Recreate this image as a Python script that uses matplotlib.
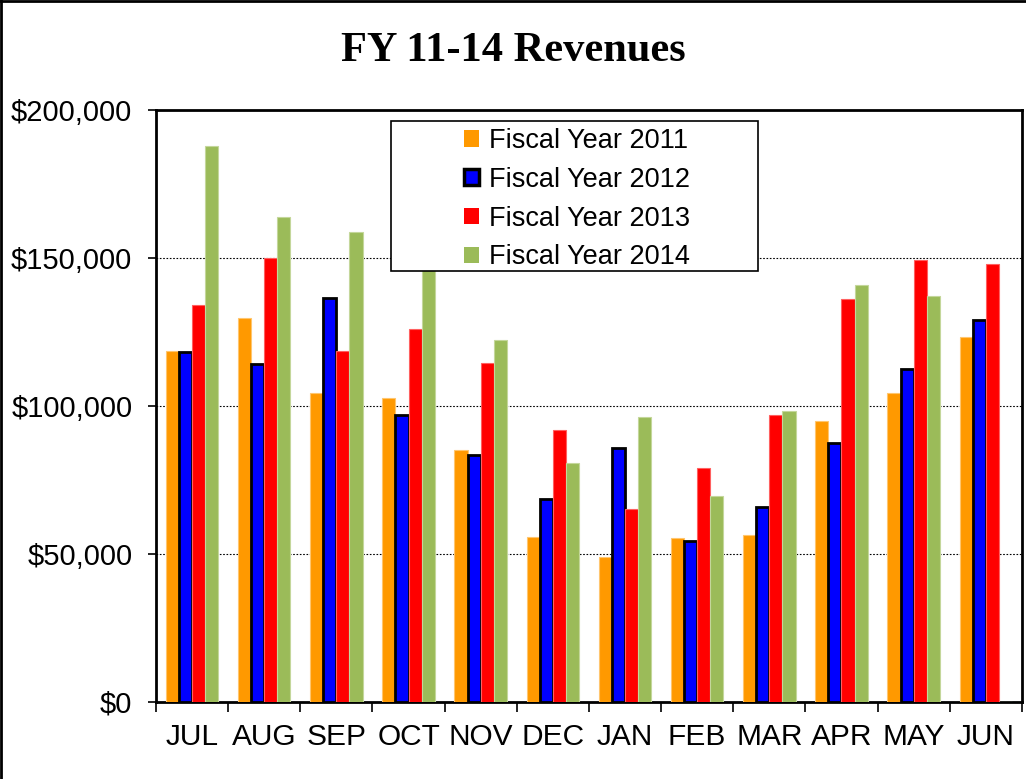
import numpy as np
import matplotlib
matplotlib.use('Agg')
import matplotlib.pyplot as plt
from matplotlib.patches import Patch, Rectangle
from matplotlib.ticker import FuncFormatter

plt.rcParams['font.family'] = ['Liberation Sans', 'DejaVu Sans']

months = ['JUL', 'AUG', 'SEP', 'OCT', 'NOV', 'DEC', 'JAN', 'FEB', 'MAR', 'APR', 'MAY', 'JUN']
fy2011 = [118500, 129600, 104200, 102500, 85100, 55600, 48900, 55200, 56300, 94900, 104200, 123200]
fy2012 = [118200, 114200, 136300, 97000, 83500, 68400, 85800, 54300, 66000, 87500, 112500, 129000]
fy2013 = [134000, 150100, 118500, 125900, 114600, 91800, 65000, 79100, 96800, 136000, 149300, 148000]
fy2014 = [187700, 163800, 158600, 150000, 122300, 80800, 96200, 69700, 98100, 140800, 137000, 0]
series_names = ['Fiscal Year 2011', 'Fiscal Year 2012', 'Fiscal Year 2013', 'Fiscal Year 2014']

colors = ['#FF9900', '#0000FF', '#FF0000', '#9BBB59']
edges = ['#FFC66E', 'black', '#FF6060', '#C4D79B']
lws = [0.8, 2.0, 0.8, 0.8]

fig = plt.figure(figsize=(10.26, 7.79), dpi=100)
ax = fig.add_axes([0.152, 0.099, 0.844, 0.760])

x = np.arange(len(months))
w = 0.182
for i, vals in enumerate([fy2011, fy2012, fy2013, fy2014]):
    ax.bar(x + (i - 1.5) * w, vals, width=w, color=colors[i],
           edgecolor=edges[i], linewidth=lws[i], zorder=3)

ax.set_xlim(-0.5, len(months) - 0.5)
ax.set_ylim(0, 200000)
ax.set_yticks([0, 50000, 100000, 150000, 200000])
ax.yaxis.set_major_formatter(FuncFormatter(lambda v, p: '${:,.0f}'.format(v)))
ax.set_xticks(x)
ax.set_xticklabels(months)
ax.set_xticks(np.arange(-0.5, len(months)), minor=True)
ax.tick_params(axis='x', which='major', length=0, labelsize=21.5, pad=15)
ax.tick_params(axis='x', which='minor', length=7, width=1.2, direction='out')
ax.tick_params(axis='y', length=6, width=1.2, direction='out', labelsize=21, pad=11)
ax.grid(axis='y', color='black', linestyle=(0, (1.5, 1.5)), linewidth=0.8, zorder=0)
for s in ax.spines.values():
    s.set_linewidth(2)

# legend box (drawn separately, it is wider than the entries)
ax.add_patch(Rectangle((0.271, 0.728), 0.424, 0.253, transform=ax.transAxes,
                       facecolor='white', edgecolor='black', linewidth=1.2, zorder=9))
handles = [Patch(facecolor=colors[i], edgecolor=(edges[i] if i == 1 else colors[i]),
                 linewidth=(2.5 if i == 1 else 0)) for i in range(4)]
leg = ax.legend(handles, series_names, loc='upper left', bbox_to_anchor=(0.356, 0.969),
                borderaxespad=0, fontsize=19.5, frameon=False, borderpad=0,
                handlelength=0.55, handleheight=0.55, handletextpad=0.35,
                labelspacing=0.47)
leg.set_zorder(10)

fig.text(0.5, 0.935, 'FY 11-14 Revenues', ha='center', va='center',
         fontsize=30.5, fontweight='bold', family='Liberation Serif')

fig.add_artist(plt.Line2D([0, 1], [0.999, 0.999], color='black', linewidth=2, transform=fig.transFigure))
fig.add_artist(plt.Line2D([0.001, 0.001], [0, 1], color='black', linewidth=2, transform=fig.transFigure))

fig.savefig('out.png', dpi=100)
